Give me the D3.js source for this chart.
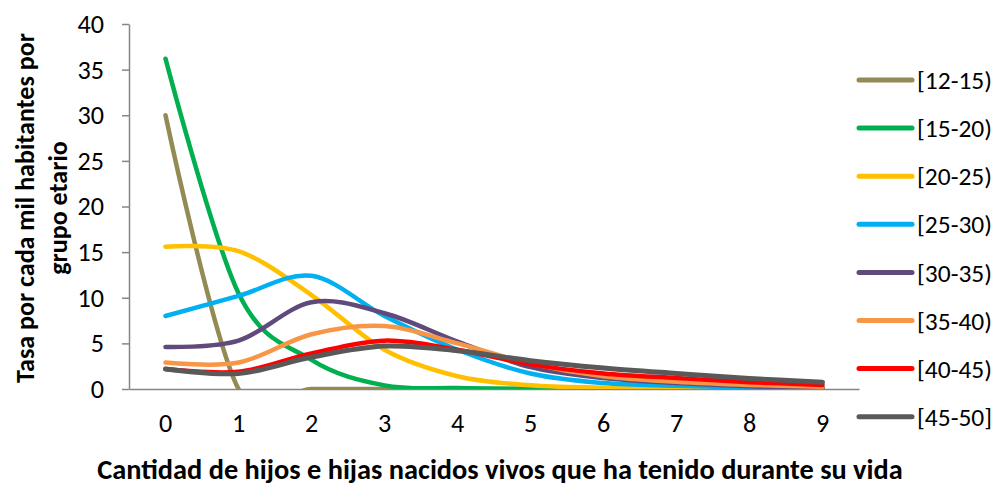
<!DOCTYPE html>
<html><head><meta charset="utf-8">
<script src="https://cdn.jsdelivr.net/npm/d3@7"></script>
<style>
html,body{margin:0;padding:0;background:#fff;}
svg text{font-family:Carlito,Calibri,Lato,sans-serif;fill:#000;}
</style></head>
<body>
<svg id="c" width="997" height="486"></svg>
<script>
const categories = [0,1,2,3,4,5,6,7,8,9];
const seriesNames = ["[12-15)","[15-20)","[20-25)","[25-30)","[30-35)","[35-40)","[40-45)","[45-50]"];
const s12_15 = [30, 0, 0, 0, 0, 0, 0, 0, 0, 0];
const s15_20 = [36.2, 10.5, 3.2, 0.4, 0.1, 0.03, 0.02, 0.01, 0.01, 0.01];
const s20_25 = [15.6, 15.1, 10.3, 4.3, 1.4, 0.4, 0.15, 0.05, 0.03, 0.02];
const s25_30 = [8.0, 10.2, 12.4, 8.0, 4.3, 1.7, 0.65, 0.35, 0.15, 0.1];
const s30_35 = [4.6, 5.3, 9.5, 8.3, 5.2, 2.4, 1.2, 0.65, 0.3, 0.15];
const s35_40 = [2.9, 2.9, 6.0, 6.9, 5.0, 2.8, 1.4, 0.8, 0.45, 0.25];
const s40_45 = [2.2, 1.9, 3.9, 5.3, 4.3, 2.7, 1.7, 1.2, 0.75, 0.45];
const s45_50 = [2.2, 1.7, 3.5, 4.7, 4.2, 3.1, 2.3, 1.7, 1.15, 0.75];
const yTicks = [0,5,10,15,20,25,30,35,40];
const colors = ["#948A54","#00B050","#FFC000","#00B0F0","#604A7B","#F79646","#FF0000","#595959"];
const yTitle = ["Tasa por cada mil habitantes por","grupo etario"];
const xTitle = "Cantidad de hijos e hijas nacidos vivos que ha tenido durante su vida";

const allSeries = [s12_15,s15_20,s20_25,s25_30,s30_35,s35_40,s40_45,s45_50];

const svg = d3.select("#c");
const L = 129, R = 859, T = 24, B = 389;
const x = d3.scaleBand().domain(categories).range([L, R]);
const y = d3.scaleLinear().domain([0, 40]).range([B, T]);
const axisColor = "#868686";
const FF = "Carlito,Calibri,Lato,sans-serif";

function fitSize(sel, base, target) {
  sel.attr("font-size", base);
  const w = sel.node().getComputedTextLength();
  const s = base * target / w;
  sel.attr("font-size", s);
  return s;
}

svg.append("defs").append("clipPath").attr("id","clip")
  .append("rect").attr("x", L).attr("y", T).attr("width", R - L).attr("height", B - T);

// tick font size so that "40" is ~26.5px wide
const probe = svg.append("text").text("40");
const tickFs = fitSize(probe, 20, 26.5);
probe.remove();

// y axis
const ya = svg.append("g").attr("transform", `translate(${L},0)`)
  .call(d3.axisLeft(y).tickValues(yTicks).tickSize(7).tickPadding(18).tickSizeOuter(0));
ya.select(".domain").attr("stroke", axisColor).attr("stroke-width", 1.5);
ya.selectAll(".tick line").attr("stroke", axisColor).attr("stroke-width", 1.5);
ya.selectAll(".tick text").attr("font-size", tickFs).style("font-family", FF).attr("fill","#000");

// x axis
const xa = svg.append("g").attr("transform", `translate(0,${B})`)
  .call(d3.axisBottom(x).tickSize(0).tickPadding(24).tickSizeOuter(0));
xa.select(".domain").attr("stroke", axisColor).attr("stroke-width", 1.5);
xa.selectAll(".tick text").attr("font-size", tickFs).style("font-family", FF).attr("fill","#000");

// lines
const line = d3.line()
  .x((d, i) => x(categories[i]) + x.bandwidth() / 2)
  .y(d => y(d))
  .curve(d3.curveCardinal.tension(0));

const g = svg.append("g").attr("clip-path", "url(#clip)");
allSeries.forEach((s, i) => {
  g.append("path").attr("d", line(s)).attr("fill", "none")
    .attr("stroke", colors[i]).attr("stroke-width", i === 7 ? 5 : 4.5)
    .attr("stroke-linecap", "round").attr("stroke-linejoin", "round");
});

// legend
const lg = svg.append("g");
let legFs = null;
seriesNames.forEach((n, i) => {
  const yy = 80 + i * 48.1;
  lg.append("line").attr("x1", 859).attr("x2", 912).attr("y1", yy).attr("y2", yy)
    .attr("stroke", colors[i]).attr("stroke-width", 5).attr("stroke-linecap", "round");
  const t = lg.append("text").attr("x", 917).attr("y", yy).attr("dy", "0.36em").text(n);
  if (legFs === null) legFs = fitSize(t, 20, 75);
  else t.attr("font-size", legFs);
});

// y title
const yt = svg.append("text").attr("transform", `translate(0,208) rotate(-90)`)
  .attr("text-anchor", "middle").attr("font-weight", "bold");
const t1 = yt.append("tspan").attr("x", 0).attr("y", 34).text(yTitle[0]);
yt.attr("font-size", 20);
const w1 = t1.node().getComputedTextLength();
const ytFs = 20 * 350 / w1;
yt.attr("font-size", ytFs);
yt.append("tspan").attr("x", 0).attr("y", 67).text(yTitle[1]);

// x title
const xt = svg.append("text").attr("x", 500).attr("y", 479).attr("text-anchor", "middle")
  .attr("font-weight", "bold").text(xTitle);
fitSize(xt, 20, 806);
</script>
</body></html>
